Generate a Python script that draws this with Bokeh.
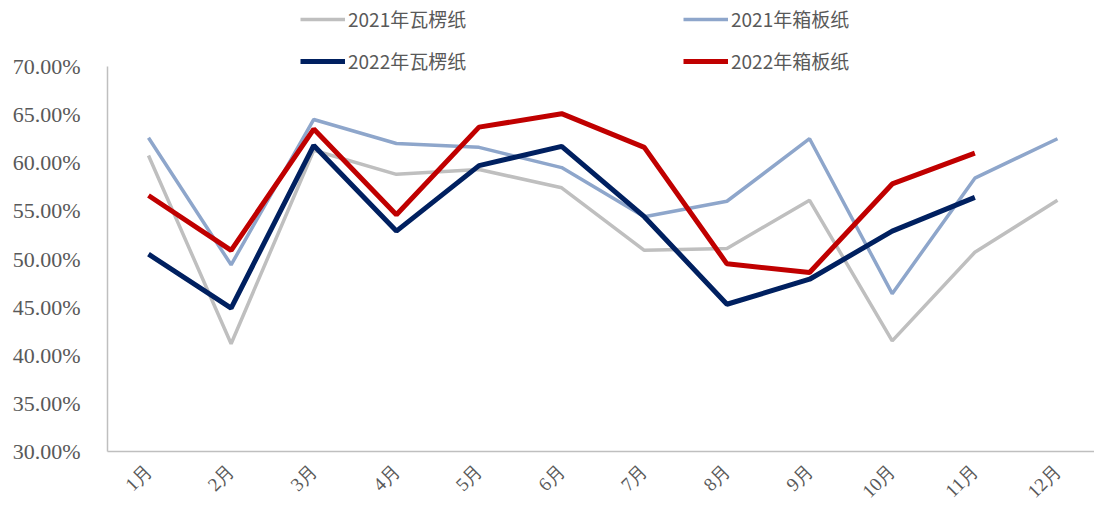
from bokeh.plotting import figure
from bokeh.models import Range1d, FixedTicker, NumeralTickFormatter, Legend, LegendItem
from bokeh.embed import file_html
from bokeh.resources import INLINE
import math

months = ["1月", "2月", "3月", "4月", "5月", "6月", "7月", "8月", "9月", "10月", "11月", "12月"]
wa_2021 = [0.6075, 0.412, 0.613, 0.588, 0.593, 0.574, 0.509, 0.511, 0.561, 0.415, 0.507, 0.561]
xb_2021 = [0.626, 0.494, 0.645, 0.620, 0.616, 0.595, 0.544, 0.560, 0.625, 0.464, 0.584, 0.625]
wa_2022 = [0.505, 0.449, 0.618, 0.529, 0.597, 0.617, 0.544, 0.453, 0.479, 0.529, 0.564]
xb_2022 = [0.566, 0.509, 0.635, 0.546, 0.637, 0.651, 0.616, 0.495, 0.486, 0.578, 0.610]
y_ticks = [0.30, 0.35, 0.40, 0.45, 0.50, 0.55, 0.60, 0.65, 0.70]

xs_all = list(range(1, len(months) + 1))

p = figure(width=1094, height=513, output_backend="svg", toolbar_location=None,
           x_range=Range1d(0.504, 12.448), y_range=Range1d(0.30, 0.7686),
           min_border_left=107, min_border_right=0, min_border_top=0, min_border_bottom=62)
p.outline_line_color = None
p.xgrid.visible = False
p.ygrid.visible = False
p.background_fill_color = "white"
p.border_fill_color = "white"

r1 = p.line(xs_all[:len(wa_2021)], wa_2021, line_color="#bfbfbf", line_width=3.5)
r2 = p.line(xs_all[:len(xb_2021)], xb_2021, line_color="#8ea6cb", line_width=3.5)
r3 = p.line(xs_all[:len(wa_2022)], wa_2022, line_color="#002060", line_width=5)
r4 = p.line(xs_all[:len(xb_2022)], xb_2022, line_color="#c00000", line_width=5)

# y axis
ya = p.yaxis[0]
ya.ticker = FixedTicker(ticks=y_ticks)
ya.formatter = NumeralTickFormatter(format="0.00%")
ya.bounds = (0.30, 0.70)
ya.axis_line_color = "#bfbfbf"
ya.axis_line_width = 1.5
ya.major_tick_line_color = None
ya.minor_tick_line_color = None
ya.major_label_standoff = 21
ya.major_label_text_font = "Liberation Serif"
ya.major_label_text_font_size = "22px"
ya.major_label_text_color = "#595959"

# x axis
xa = p.xaxis[0]
xa.ticker = FixedTicker(ticks=xs_all)
xa.major_label_overrides = {i + 1: m for i, m in enumerate(months)}
xa.axis_line_color = "#bfbfbf"
xa.axis_line_width = 1.5
xa.major_tick_line_color = None
xa.minor_tick_line_color = None
xa.major_label_orientation = math.pi / 4
xa.major_label_standoff = 10
xa.major_label_text_font = "Liberation Serif"
xa.major_label_text_font_size = "19px"
xa.major_label_text_color = "#595959"

def make_legend(items, loc):
    lg = Legend(items=items, location=loc, orientation="vertical",
                border_line_color=None, background_fill_alpha=0,
                padding=0, margin=0, spacing=15, glyph_width=45, glyph_height=20,
                label_height=20, label_standoff=3,
                label_text_font="Noto Sans CJK SC", label_text_font_size="19px",
                label_text_color="#595959")
    return lg

lg1 = make_legend([LegendItem(label="2021年瓦楞纸", renderers=[r1]),
                   LegendItem(label="2022年瓦楞纸", renderers=[r3])], (193, 377))
lg2 = make_legend([LegendItem(label="2021年箱板纸", renderers=[r2]),
                   LegendItem(label="2022年箱板纸", renderers=[r4])], (576, 377))
p.add_layout(lg1, "center")
p.add_layout(lg2, "center")

open("out.html", "w").write(file_html(p, INLINE))
